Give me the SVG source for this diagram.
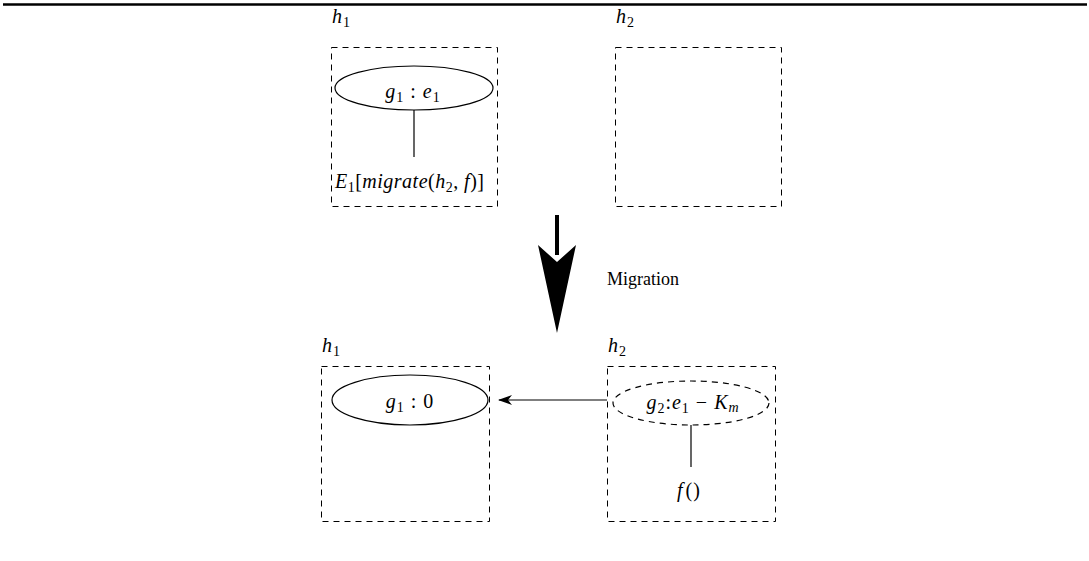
<svg xmlns="http://www.w3.org/2000/svg" width="1089" height="561" viewBox="0 0 1089 561">
<style>
.box{fill:none;stroke:#000;stroke-width:1;stroke-dasharray:6,5}
.ell{fill:none;stroke:#000;stroke-width:1.2}
.dell{fill:none;stroke:#000;stroke-width:1.2;stroke-dasharray:6,5}
.ln{stroke:#000;stroke-width:1.2;fill:none}
text{font-family:"Liberation Serif","Times New Roman",serif;font-size:20px;fill:#000}
.it{font-style:italic;letter-spacing:1px}
.rm{font-style:normal}
.sub{font-size:14px;font-style:normal}
.lbl{font-size:18px}
</style>
<defs>
<marker id="ah" markerWidth="14" markerHeight="10" refX="13" refY="5" orient="auto" markerUnits="userSpaceOnUse">
<path d="M0,0 L14,5 L0,10 L4,5 Z" fill="#000"/>
</marker>
</defs>
<rect width="1089" height="561" fill="#fff"/>
<line x1="3" y1="4.5" x2="1087" y2="4.5" stroke="#000" stroke-width="2.6"/>

<g id="top-h1">
<text x="332" y="23" class="it">h<tspan class="sub" dy="4">1</tspan></text>
<rect class="box" x="331.5" y="47.5" width="166" height="159"/>
</g>
<g id="top-g1">
<ellipse class="ell" cx="414" cy="88" rx="79" ry="22"/>
<text x="413" y="98" class="it" text-anchor="middle">g<tspan class="sub" dy="4">1</tspan><tspan dy="-4" class="rm"> : </tspan>e<tspan class="sub" dy="4">1</tspan></text>
</g>
<g id="top-E1">
<text x="335" y="188" class="it" textLength="150" lengthAdjust="spacing">E<tspan class="sub" dy="4">1</tspan><tspan dy="-4" class="rm">[</tspan>migrate<tspan class="rm">(</tspan>h<tspan class="sub" dy="4">2</tspan><tspan dy="-4" class="rm">, </tspan>f<tspan class="rm">)]</tspan></text>
</g>
<g id="top-h2">
<text x="616" y="23" class="it">h<tspan class="sub" dy="4">2</tspan></text>
<rect class="box" x="615.5" y="47.5" width="166" height="159"/>
</g>

<g id="migration">
<rect x="555" y="215" width="4" height="40" fill="#000"/>
<path d="M538,245 L557,262 L576,245 L557,333 Z" fill="#000"/>
<text x="607" y="285" class="lbl">Migration</text>
</g>

<g id="bot-h1">
<text x="322" y="352" class="it">h<tspan class="sub" dy="4">1</tspan></text>
<rect class="box" x="321.5" y="366.5" width="168" height="155"/>
</g>
<g id="bot-g1">
<ellipse class="ell" cx="410" cy="400" rx="78" ry="25"/>
<text x="410" y="408" class="it" text-anchor="middle">g<tspan class="sub" dy="4">1</tspan><tspan dy="-4" class="rm"> : 0</tspan></text>
</g>
<g id="bot-h2">
<text x="608" y="352" class="it">h<tspan class="sub" dy="4">2</tspan></text>
<rect class="box" x="607.5" y="366.5" width="168" height="155"/>
</g>
<g id="bot-g2">
<ellipse class="dell" cx="691" cy="403" rx="78" ry="22"/>
<text x="693" y="409" class="it" text-anchor="middle">g<tspan class="sub" dy="4">2</tspan><tspan dy="-4" class="rm">:</tspan>e<tspan class="sub" dy="4">1</tspan><tspan dy="-4" class="rm"> − </tspan>K<tspan dy="3" style="font-size:14px">m</tspan></text>
</g>
<g id="bot-f">
<text x="689" y="497" class="it" text-anchor="middle">f<tspan class="rm" dx="2">()</tspan></text>
</g>

<g id="connectors">
<line class="ln" x1="414" y1="110" x2="414" y2="157"/>
<line class="ln" x1="691" y1="425" x2="691" y2="467"/>
<line class="ln" x1="607" y1="400" x2="499" y2="400" marker-end="url(#ah)"/>
</g>
</svg>
